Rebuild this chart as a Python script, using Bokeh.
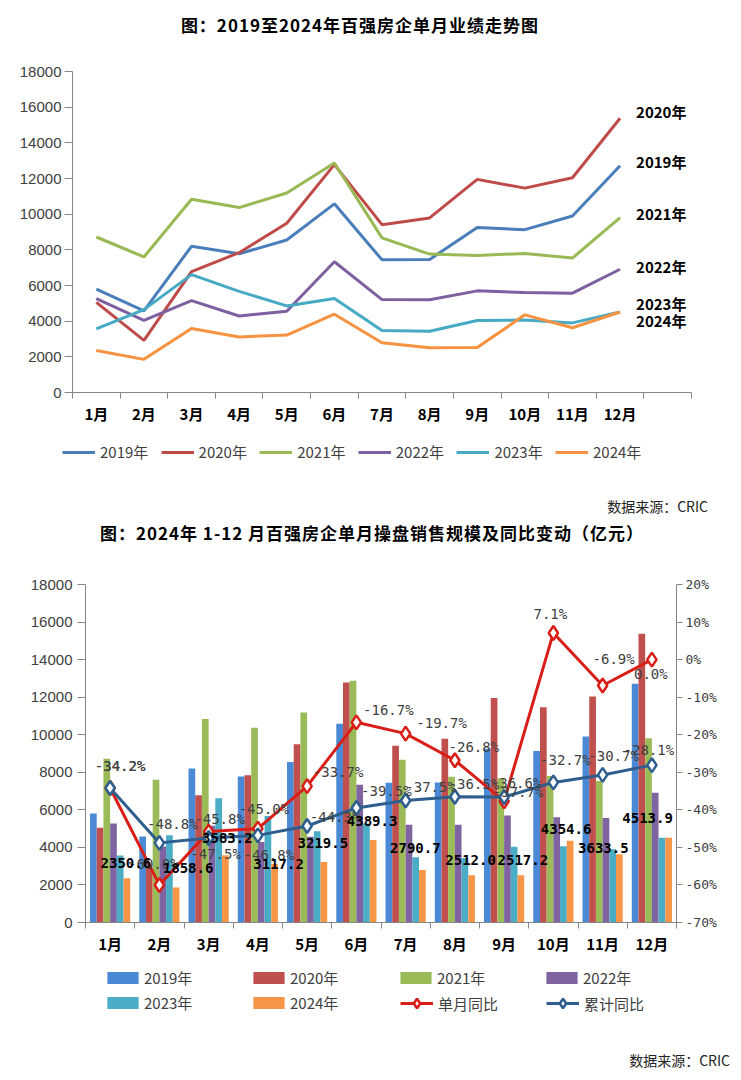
from bokeh.plotting import figure
from bokeh.models import (Range1d, LinearAxis, FixedTicker, PrintfTickFormatter,
                          LabelSet, Legend, LegendItem, ColumnDataSource, Div)
from bokeh.layouts import column
from bokeh.embed import file_html
from bokeh.resources import INLINE
from bokeh.core.properties import value

# ---------------- data ----------------
months = ["1月", "2月", "3月", "4月", "5月", "6月", "7月", "8月", "9月", "10月", "11月", "12月"]
years = ["2019年", "2020年", "2021年", "2022年", "2023年", "2024年"]
s2019 = [5800, 4580, 8200, 7780, 8550, 10580, 7440, 7460, 9250, 9130, 9900, 12720]
s2020 = [5050, 2920, 6780, 7840, 9490, 12780, 9410, 9790, 11950, 11460, 12040, 15380]
s2021 = [8720, 7600, 10840, 10370, 11190, 12870, 8670, 7760, 7680, 7800, 7540, 9810]
s2022 = [5270, 4050, 5150, 4290, 4560, 7330, 5210, 5200, 5700, 5610, 5570, 6910]
s2023 = [3572, 4646, 6611, 5668, 4856, 5269, 3475, 3432, 4040, 4066, 3903, 4514]
s2024 = [2350.6, 1858.6, 3583.2, 3117.2, 3219.5, 4389.3, 2790.7, 2512.0, 2517.2, 4354.6, 3633.5, 4513.9]
yoy_month = [-34.2, -60.0, -45.8, -45.0, -33.7, -16.7, -19.7, -26.8, -37.7, 7.1, -6.9, 0.0]
yoy_cum = [-34.2, -48.8, -47.5, -46.8, -44.3, -39.5, -37.5, -36.5, -36.6, -32.7, -30.7, -28.1]
y_ticks = [0, 2000, 4000, 6000, 8000, 10000, 12000, 14000, 16000, 18000]
pct_ticks = [-70, -60, -50, -40, -30, -20, -10, 0, 10, 20]
line_names = ["单月同比", "累计同比"]
title1 = "图：2019至2024年百强房企单月业绩走势图"
title2 = "图：2024年 1-12 月百强房企单月操盘销售规模及同比变动（亿元）"
source = "数据来源：CRIC"

series = [s2019, s2020, s2021, s2022, s2023, s2024]
xs = list(range(1, len(months) + 1))

# ---------------- styles ----------------
line_colors = ["#4A7EBB", "#BE4B48", "#98B954", "#7D60A0", "#46AAC5", "#F69240"]
bar_colors = ["#4A89D6", "#C0504D", "#9BBB59", "#8064A2", "#4BACC6", "#F79646"]
red = "#D91E18"
navy = "#2E5E8E"
axis_gray = "#868686"
tick_gray = "#404040"
CJK = "Noto Sans CJK SC"
MONO = "DejaVu Sans Mono"
FONT_CSS = "'Noto Sans CJK SC', sans-serif"

# per-label pixel offsets (dx right, dy down)
end_dy = [-4, -7, -4, -3, -9, 8]
red_dx = [10, -6, 11, 6, 31, 32, 36, 19, 14, -3, 11, -1]
red_dy = [-22, -21, -13, -20, -14, -12, -11, -13, -9, -19, -27, 14]
blue_dx = [10, 13, 7, 11, 28, 30, 25, 19, 12, 12, 11, -3]
blue_dy = [-22, -19, 16, 20, -9, -17, -13, -13, -14, -22, -19, -15]
org_dx = [-1, 12, 2, 4, -1, -1, -7, -1, 2, -4, -16, -21]
org_dy = [-15, -20, -17, 0, -19, -19, -22, -15, -15, -12, -6, -20]

W = 741


def no_align(f):
    try:
        f.frame_align = False
    except Exception:
        pass
    return f


def style_y(ax, out=8, standoff=3):
    ax.axis_line_color = axis_gray
    ax.major_tick_line_color = axis_gray
    ax.minor_tick_line_color = None
    ax.major_tick_out = out
    ax.major_tick_in = 0
    ax.minor_tick_out = 0
    ax.minor_tick_in = 0
    ax.major_label_standoff = standoff
    ax.major_label_text_font = "Liberation Sans"
    ax.major_label_text_font_size = "15px"
    ax.major_label_text_color = tick_gray


def style_x(ax, n_slots, standoff):
    ax.ticker = FixedTicker(ticks=xs, minor_ticks=[i + 0.5 for i in range(0, n_slots + 1)])
    ax.major_label_overrides = {x: m for x, m in zip(xs, months)}
    ax.axis_line_color = axis_gray
    ax.major_tick_line_color = None
    ax.major_tick_out = 0
    ax.major_tick_in = 0
    ax.minor_tick_line_color = axis_gray
    ax.minor_tick_out = 6
    ax.minor_tick_in = 0
    ax.major_label_standoff = standoff
    ax.major_label_text_font = CJK
    ax.major_label_text_font_style = "bold"
    ax.major_label_text_font_size = "15px"
    ax.major_label_text_color = "black"


def legend_fig(h):
    f = figure(width=W, height=h, x_range=Range1d(0, W), y_range=Range1d(0, h),
               x_axis_location=None, y_axis_location=None,
               output_backend="svg", toolbar_location=None,
               min_border_left=0, min_border_right=0, min_border_top=0, min_border_bottom=0)
    f.outline_line_color = None
    f.grid.visible = False
    return no_align(f)


def one_legend(fig, label, rends, left, vy, gw, gh, standoff):
    fig.add_layout(Legend(items=[LegendItem(label=label, renderers=rends)],
                          location=(left, vy), orientation="horizontal",
                          glyph_width=gw, glyph_height=gh, label_height=20,
                          label_standoff=standoff, padding=0, margin=0,
                          border_line_alpha=0, background_fill_alpha=0,
                          label_text_font=CJK, label_text_font_size="15px",
                          label_text_color=tick_gray))


# legend keys are drawn by proxy renderers that sit outside the visible range
PX = [-50]
PY = [0]

TITLE_CSS = (f"font-family:{FONT_CSS};font-weight:bold;font-size:17px;letter-spacing:1px;"
             "color:#000;white-space:nowrap;text-align:center")

# ================= title div (page y 0..50) =================
div_a = Div(text=f'<div style="width:720px;line-height:50px;{TITLE_CSS}">{title1}</div>',
            width=W, height=50, margin=0)

# ================= top chart (page y 50..430) =================
Y0, H1 = 50, 380
T_L, T_R, T_T, T_B = 72, 691, 71, 392
p1 = figure(width=W, height=H1, x_range=Range1d(0.5, 13.5), y_range=Range1d(0, 18000),
            output_backend="svg", toolbar_location=None,
            min_border_left=T_L, min_border_right=W - T_R,
            min_border_top=T_T - Y0, min_border_bottom=Y0 + H1 - T_B)
no_align(p1)
p1.outline_line_color = None
p1.xgrid.grid_line_color = None
p1.ygrid.grid_line_color = None
p1.yaxis.ticker = FixedTicker(ticks=y_ticks)
style_y(p1.yaxis[0], out=8, standoff=3)
style_x(p1.xaxis[0], 13, 4)

for s, c in zip(series, line_colors):
    p1.line(xs, s, line_color=c, line_width=3)

end_src = ColumnDataSource(dict(x=[xs[-1]] * len(series), y=[s[-1] for s in series],
                                t=years, dy=[-d for d in end_dy]))
p1.add_layout(LabelSet(x="x", y="y", text="t", source=end_src, x_offset=16, y_offset="dy",
                       text_baseline="middle", text_align="left",
                       text_font=value(CJK), text_font_style="bold",
                       text_font_size="15px", text_color="black"))

# ================= top legend strip (page y 430..490) =================
H_L1 = 60
lg1 = legend_fig(H_L1)
for i, (name, c) in enumerate(zip(years, line_colors)):
    r = lg1.line(PX * 2, PY * 2, line_color=c, line_width=3)
    one_legend(lg1, name, [r], 62 + i * 98.6, H_L1 - (452 - 430) - 10, 33, 20, 5)

# ================= middle div (page y 490..560) =================
div_b = Div(text=f'<div style="width:708px;height:32px;text-align:right;font-family:{FONT_CSS};'
                 f'font-size:14px;line-height:32px;color:#222">{source}</div>'
                 f'<div style="margin-left:3px;width:738px;height:22px;line-height:22px;'
                 f'{TITLE_CSS}">{title2}</div>',
            width=W, height=70, margin=0)

# ================= bottom chart (page y 560..960) =================
Y1, H2 = 560, 400
B_L, B_R, B_T, B_B = 85, 676, 584, 922
p2 = figure(width=W, height=H2, x_range=Range1d(0.5, 12.5), y_range=Range1d(0, 18000),
            output_backend="svg", toolbar_location=None,
            min_border_left=B_L, min_border_right=W - B_R,
            min_border_top=B_T - Y1, min_border_bottom=Y1 + H2 - B_B)
no_align(p2)
p2.outline_line_color = None
p2.xgrid.grid_line_color = None
p2.ygrid.grid_line_color = None
p2.extra_y_ranges = {"pct": Range1d(-70, 20)}
p2.yaxis.ticker = FixedTicker(ticks=y_ticks)
style_y(p2.yaxis[0], out=8, standoff=5)
style_x(p2.xaxis[0], 12, 4)

rax = LinearAxis(y_range_name="pct", ticker=FixedTicker(ticks=pct_ticks),
                 formatter=PrintfTickFormatter(format="%d%%"))
style_y(rax, out=6, standoff=3)
rax.major_label_text_font = MONO
rax.major_label_text_font_size = "13px"
p2.add_layout(rax, "right")

bw = 0.136
for k, (s, c) in enumerate(zip(series, bar_colors)):
    p2.vbar(x=[x + (k - 2.5) * bw for x in xs], top=s, width=bw, fill_color=c, line_color=None)

p2.line(xs, yoy_month, y_range_name="pct", line_color=red, line_width=3)
p2.scatter(xs, yoy_month, y_range_name="pct", marker="diamond", size=14,
           fill_color="white", line_color=red, line_width=2.5)
p2.line(xs, yoy_cum, y_range_name="pct", line_color=navy, line_width=3)
p2.scatter(xs, yoy_cum, y_range_name="pct", marker="diamond", size=14,
           fill_color="white", line_color=navy, line_width=2.5)

org_src = ColumnDataSource(dict(x=[x + 2.5 * bw for x in xs], y=s2024,
                                t=[f"{v:.1f}" for v in s2024],
                                dx=org_dx, dy=[-d for d in org_dy]))
red_src = ColumnDataSource(dict(x=xs, y=yoy_month, t=[f"{v:.1f}%" for v in yoy_month],
                                dx=red_dx, dy=[-d for d in red_dy]))
blue_src = ColumnDataSource(dict(x=xs, y=yoy_cum, t=[f"{v:.1f}%" for v in yoy_cum],
                                 dx=blue_dx, dy=[-d for d in blue_dy]))
for src in (red_src, blue_src):
    p2.add_layout(LabelSet(x="x", y="y", text="t", source=src, y_range_name="pct",
                           x_offset="dx", y_offset="dy", text_align="center",
                           text_baseline="middle", text_font=value(MONO),
                           text_font_size="14px", text_color="#404040"))
p2.add_layout(LabelSet(x="x", y="y", text="t", source=org_src,
                       x_offset="dx", y_offset="dy", text_align="center",
                       text_baseline="middle", text_font=value(MONO), text_font_style="bold",
                       text_font_size="14px", text_color="black"))

# ================= bottom legend strip (page y 960..1040) =================
H_L2 = 80
lg2 = legend_fig(H_L2)
col_left = [107, 253, 400, 546]
row_mid = [978, 1003]
leg_entries = []
for name, c in zip(years, bar_colors):
    r = lg2.vbar(x=PX, top=PY, width=1, fill_color=c, line_color=None)
    leg_entries.append((name, [r], True))
for name, c in zip(line_names, [red, navy]):
    rl = lg2.line(PX * 2, PY * 2, line_color=c, line_width=3)
    rs = lg2.scatter(PX, PY, marker="diamond", size=10, fill_color="white",
                     line_color=c, line_width=2.5)
    leg_entries.append((name, [rl, rs], False))
for j, (name, rends, is_bar) in enumerate(leg_entries):
    ri, ci = divmod(j, 4)
    gh = 15 if is_bar else 24
    vy = H_L2 - (row_mid[ri] - 960) - max(gh, 20) / 2
    if is_bar:
        one_legend(lg2, name, rends, col_left[ci] - 4, vy, 39, gh, 2)
    else:
        one_legend(lg2, name, rends, col_left[ci], vy, 33, gh, 5)

# ================= bottom div (page y 1040..1080) =================
div_c = Div(text=f'<div style="width:730px;text-align:right;font-family:{FONT_CSS};'
                 f'font-size:14px;line-height:40px;color:#222">{source}</div>',
            width=W, height=40, margin=0)

layout = column(div_a, p1, lg1, div_b, p2, lg2, div_c, spacing=0)
open("out.html", "w").write(file_html(layout, INLINE))
